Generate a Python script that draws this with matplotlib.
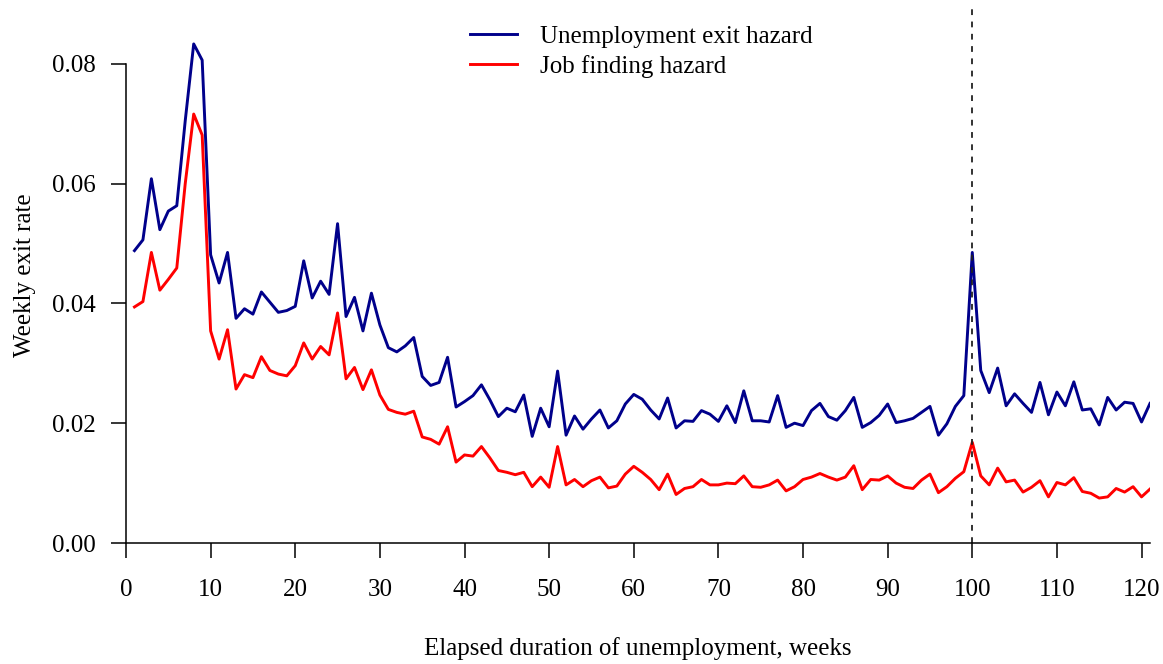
import numpy as np
import matplotlib
matplotlib.use("Agg")
import matplotlib.pyplot as plt

# weekly hazards, weeks 1..121
weeks = list(range(1, 122))

exit_hazard = [
    0.0488, 0.0506, 0.0608, 0.0523, 0.0554, 0.0563, 0.0705, 0.0833, 0.0806, 0.0481,
    0.0434, 0.0485, 0.0375, 0.0391, 0.0382, 0.0419, 0.0402, 0.0385, 0.0388, 0.0395,
    0.0471, 0.0409, 0.0437, 0.0415, 0.0533, 0.0378, 0.0410, 0.0354, 0.0417, 0.0364,
    0.0326, 0.0319, 0.0329, 0.0343, 0.0278, 0.0263, 0.0268, 0.0310, 0.0227, 0.0236,
    0.0246, 0.0264, 0.0239, 0.0211, 0.0225, 0.0219, 0.0247, 0.0178, 0.0225, 0.0194,
    0.0287, 0.0180, 0.0212, 0.0190, 0.0207, 0.0222, 0.0192, 0.0204, 0.0232, 0.0248,
    0.0240, 0.0222, 0.0207, 0.0242, 0.0192, 0.0204, 0.0203, 0.0221, 0.0215, 0.0203,
    0.0229, 0.0201, 0.0254, 0.0204, 0.0204, 0.0202, 0.0246, 0.0193, 0.0200, 0.0196,
    0.0221, 0.0233, 0.0211, 0.0205, 0.0221, 0.0243, 0.0193, 0.0201, 0.0213, 0.0232,
    0.0201, 0.0204, 0.0208, 0.0218, 0.0228, 0.0180, 0.0199, 0.0228, 0.0246, 0.0485,
    0.0288, 0.0251, 0.0292, 0.0229, 0.0249, 0.0233, 0.0218, 0.0268, 0.0214, 0.0252,
    0.0229, 0.0269, 0.0222, 0.0224, 0.0197, 0.0243, 0.0222, 0.0235, 0.0233, 0.0202,
    0.0233,
]

job_hazard = [
    0.0394, 0.0403, 0.0485, 0.0422, 0.0440, 0.0459, 0.0600, 0.0716, 0.0681, 0.0354,
    0.0307, 0.0356, 0.0257, 0.0281, 0.0276, 0.0311, 0.0288, 0.0282, 0.0279, 0.0296,
    0.0334, 0.0307, 0.0328, 0.0314, 0.0384, 0.0274, 0.0293, 0.0256, 0.0289, 0.0247,
    0.0223, 0.0218, 0.0215, 0.0220, 0.0177, 0.0173, 0.0165, 0.0194, 0.0135, 0.0147,
    0.0145, 0.0161, 0.0142, 0.0121, 0.0118, 0.0114, 0.0118, 0.0094, 0.0110, 0.0093,
    0.0161, 0.0097, 0.0106, 0.0094, 0.0104, 0.0110, 0.0092, 0.0095, 0.0115, 0.0128,
    0.0118, 0.0106, 0.0089, 0.0115, 0.0081, 0.0091, 0.0094, 0.0106, 0.0097, 0.0097,
    0.0100, 0.0099, 0.0112, 0.0094, 0.0093, 0.0097, 0.0105, 0.0087, 0.0094, 0.0106,
    0.0110, 0.0116, 0.0110, 0.0105, 0.0110, 0.0129, 0.0089, 0.0106, 0.0105, 0.0112,
    0.0100, 0.0093, 0.0091, 0.0105, 0.0115, 0.0084, 0.0094, 0.0108, 0.0119, 0.0168,
    0.0112, 0.0097, 0.0125, 0.0102, 0.0105, 0.0085, 0.0093, 0.0104, 0.0077, 0.0101,
    0.0097, 0.0109, 0.0086, 0.0083, 0.0075, 0.0077, 0.0091, 0.0085, 0.0094, 0.0077,
    0.0090,
]

x_ticks = list(range(0, 121, 10))
y_ticks = [0.00, 0.02, 0.04, 0.06, 0.08]
cutoff_week = 100

plt.rcParams['font.family'] = ['Liberation Serif', 'DejaVu Serif']
plt.rcParams['font.size'] = 18

fig = plt.figure(figsize=(11.63, 6.64), dpi=100)
ax = fig.add_axes([126 / 1163, 1 - 543 / 664, (1150 - 126) / 1163, (543 - 8) / 664])

ax.plot(weeks, exit_hazard, color='#00008B', lw=2.1, label='Unemployment exit hazard')
ax.plot(weeks, job_hazard, color='#FF0000', lw=2.1, label='Job finding hazard')
ax.axvline(cutoff_week, color='#222222', lw=1.3, linestyle=(0, (3.2, 3.6)))

ax.set_xlim(0, 121)
ax.set_ylim(0, 0.0893)
ax.set_xticks(x_ticks)
ax.set_yticks(y_ticks)
ax.set_yticklabels(['%.2f' % v for v in y_ticks])

for s in ['top', 'right']:
    ax.spines[s].set_visible(False)
ax.spines['left'].set_bounds(0, 0.08)
ax.spines['left'].set_linewidth(1.1)
ax.spines['bottom'].set_linewidth(1.1)
ax.tick_params(axis='both', direction='out', length=11, width=1.1, labelsize=18)
ax.tick_params(axis='x', pad=15)
ax.tick_params(axis='y', pad=11)

ax.set_xlabel('Elapsed duration of unemployment, weeks', fontsize=18)
ax.xaxis.set_label_coords(0.5, -0.176)
ax.set_ylabel('Weekly exit rate', fontsize=18)
ax.yaxis.set_label_coords(-0.088, 0.5)

ax.legend(loc='upper left', bbox_to_anchor=(470 / 1163, 1 - 25 / 664),
          bbox_transform=fig.transFigure, frameon=False, fontsize=18,
          handlelength=1.9, handletextpad=0.9, labelspacing=0.3,
          borderpad=0, borderaxespad=0)

fig.savefig('out.png', dpi=100)
